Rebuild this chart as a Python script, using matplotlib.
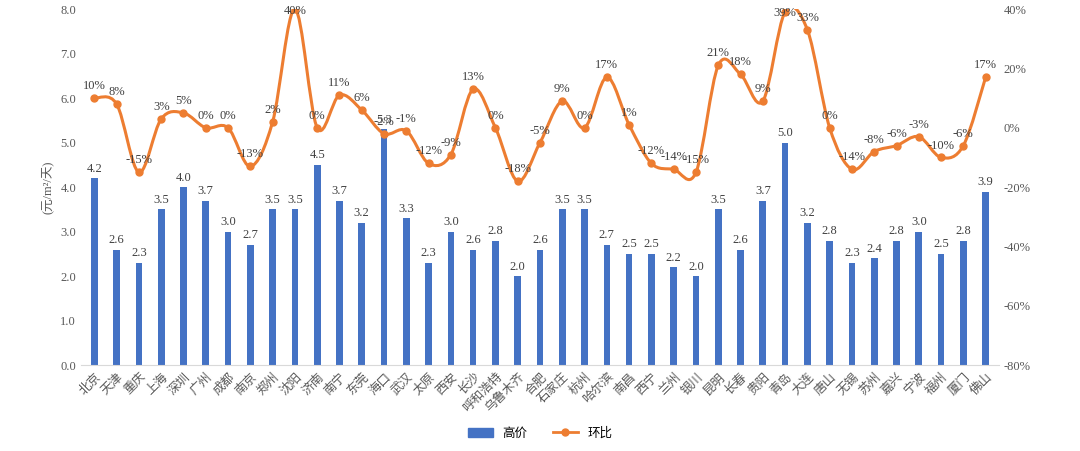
import matplotlib
matplotlib.use("Agg")
import matplotlib.pyplot as plt
import numpy as np
from matplotlib.path import Path
from matplotlib.patches import PathPatch
from matplotlib.lines import Line2D
from matplotlib.ticker import FuncFormatter

plt.rcParams["font.family"] = ["Liberation Serif", "Noto Sans CJK SC"]

cities = ["北京", "天津", "重庆", "上海", "深圳", "广州", "成都", "南京", "郑州", "沈阳",
          "济南", "南宁", "东莞", "海口", "武汉", "太原", "西安", "长沙", "呼和浩特", "乌鲁木齐",
          "合肥", "石家庄", "杭州", "哈尔滨", "南昌", "西宁", "兰州", "银川", "昆明", "长春",
          "贵阳", "青岛", "大连", "唐山", "无锡", "苏州", "嘉兴", "宁波", "福州", "厦门", "佛山"]
price = [4.2, 2.6, 2.3, 3.5, 4.0, 3.7, 3.0, 2.7, 3.5, 3.5, 4.5, 3.7, 3.2, 5.3, 3.3, 2.3, 3.0,
         2.6, 2.8, 2.0, 2.6, 3.5, 3.5, 2.7, 2.5, 2.5, 2.2, 2.0, 3.5, 2.6, 3.7, 5.0, 3.2, 2.8,
         2.3, 2.4, 2.8, 3.0, 2.5, 2.8, 3.9]
mom = [10, 8, -15, 3, 5, 0, 0, -13, 2, 40, 0, 11, 6, -2, -1, -12, -9, 13, 0, -18, -5, 9, 0,
       17, 1, -12, -14, -15, 21, 18, 9, 39, 33, 0, -14, -8, -6, -3, -10, -6, 17]

blue = "#4472C4"
orange = "#ED7D31"

fig = plt.figure(figsize=(10.8, 4.51), dpi=100)
ax = fig.add_axes([0.075, 0.19, 0.85, 0.79])
ax2 = ax.twinx()
x = np.arange(len(cities))

ax.bar(x, price, width=0.3, color=blue, zorder=2)
for xi, v in zip(x, price):
    ax.text(xi, v + 0.08, f"{v:.1f}", ha="center", va="bottom", fontsize=9, color="#404040")
ax.set_ylim(0, 8)
ax.set_yticks(np.arange(0, 8.1, 1))
ax.yaxis.set_major_formatter(FuncFormatter(lambda v, p: f"{v:.1f}"))
ax.set_xlim(-0.6, len(cities) - 0.4)
ax.set_xticks(x)
ax.set_xticklabels(cities, rotation=45, ha="right", rotation_mode="anchor", fontsize=9,
                   family=["Noto Sans CJK SC"])
ax.set_ylabel("(元/m²/天)", fontsize=9, color="#595959")
for a in (ax, ax2):
    for s in a.spines.values():
        s.set_visible(False)
    a.tick_params(length=0, labelsize=9, colors="#595959")
ax.spines["bottom"].set_visible(True)
ax.spines["bottom"].set_color("#d9d9d9")

# smooth Catmull-Rom curve through points, drawn as Bezier path
y = np.array(mom, dtype=float)
pts = np.column_stack([x, y])
verts = [pts[0]]
codes = [Path.MOVETO]
for i in range(len(pts) - 1):
    p0 = pts[max(i - 1, 0)]
    p1 = pts[i]
    p2 = pts[i + 1]
    p3 = pts[min(i + 2, len(pts) - 1)]
    verts += [p1 + (p2 - p0) / 6, p2 - (p3 - p1) / 6, p2]
    codes += [Path.CURVE4] * 3
ax2.add_patch(PathPatch(Path(verts, codes), fill=False, edgecolor=orange, lw=2.2, zorder=3))
ax2.plot(x, y, "o", color=orange, ms=5, zorder=4)
for xi, v in zip(x, mom):
    if v >= 35:
        ax2.text(xi, v - 0.5, f"{v}%", ha="center", va="center", fontsize=9, color="#404040",
                 zorder=5)
    else:
        ax2.text(xi, v + 2, f"{v}%", ha="center", va="bottom", fontsize=9, color="#404040")
ax2.set_ylim(-80, 40)
ax2.set_yticks(np.arange(-80, 41, 20))
ax2.yaxis.set_major_formatter(FuncFormatter(lambda v, p: f"{v:.0f}%"))

handles = [plt.Rectangle((0, 0), 1, 1, color=blue),
           Line2D([], [], color=orange, lw=2, marker="o", ms=5)]
fig.legend(handles, ["高价", "环比"], loc="lower center", ncol=2, frameon=False,
           bbox_to_anchor=(0.5, 0.0), prop={"family": "Noto Sans CJK SC", "size": 9})

fig.savefig("out.png", dpi=100)
